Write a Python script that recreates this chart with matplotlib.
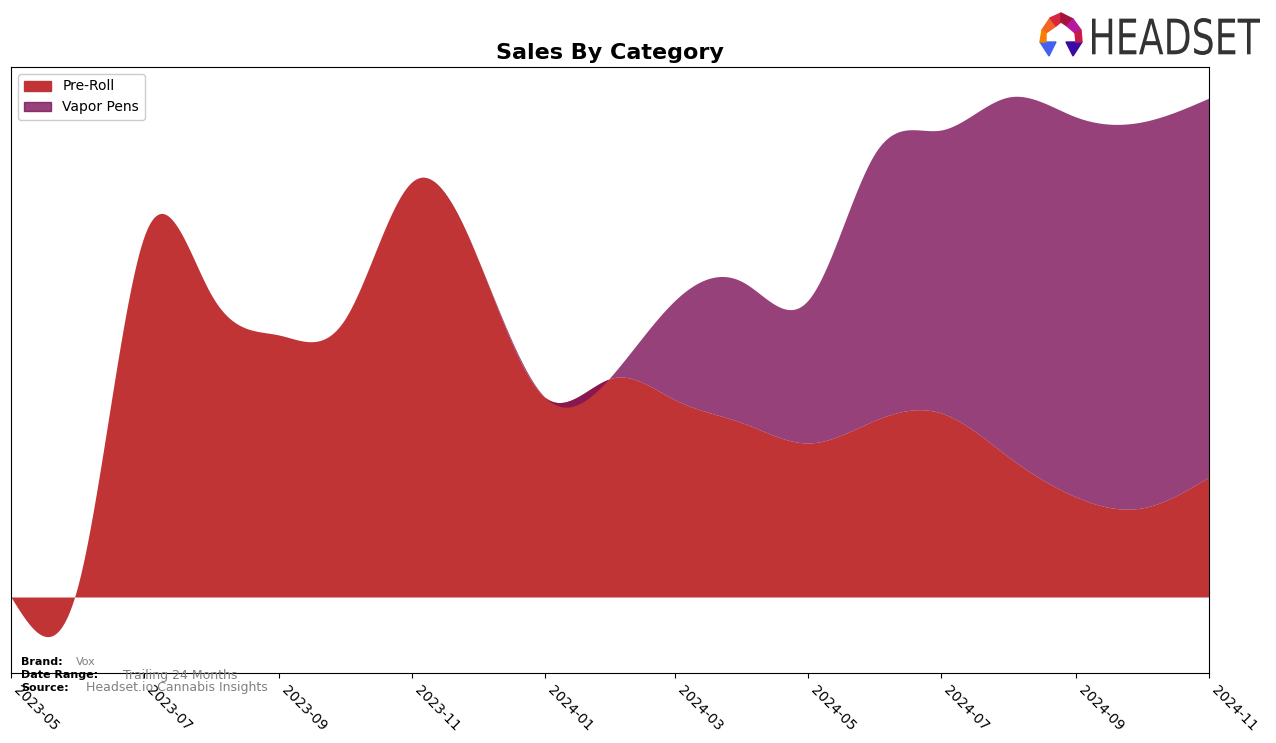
import numpy as np
import matplotlib
matplotlib.use("Agg")
import matplotlib.pyplot as plt
import matplotlib.dates as mdates
from matplotlib.patches import Patch, Polygon, PathPatch
from matplotlib.textpath import TextPath
from matplotlib.font_manager import FontProperties
from matplotlib.transforms import Affine2D

months = ["2023-05", "2023-06", "2023-07", "2023-08", "2023-09", "2023-10",
          "2023-11", "2023-12", "2024-01", "2024-02", "2024-03", "2024-04",
          "2024-05", "2024-06", "2024-07", "2024-08", "2024-09", "2024-10",
          "2024-11"]
pre_roll = [0, 14, 360, 302, 262, 277, 415, 340, 200, 219, 197, 174,
            154, 177, 184, 140, 100, 89, 120]
vapor_pens = [0, 0, 0, 0, 0, 0, 0, 0, 0, 3, 100, 141,
              143, 268, 283, 360, 380, 386, 379]

red = "#c13435"
purple = (124 / 255, 18 / 255, 89 / 255)


def natural_spline(x, y, xs):
    # plain natural cubic spline
    x = np.asarray(x, float)
    y = np.asarray(y, float)
    n = len(x)
    h = np.diff(x)
    A = np.zeros((n, n))
    b = np.zeros(n)
    A[0, 0] = 1
    A[-1, -1] = 1
    for i in range(1, n - 1):
        A[i, i - 1] = h[i - 1]
        A[i, i] = 2 * (h[i - 1] + h[i])
        A[i, i + 1] = h[i]
        b[i] = 3 * ((y[i + 1] - y[i]) / h[i] - (y[i] - y[i - 1]) / h[i - 1])
    c = np.linalg.solve(A, b)
    out = np.zeros_like(xs)
    idx = np.clip(np.searchsorted(x, xs) - 1, 0, n - 2)
    for k, xv in enumerate(xs):
        i = idx[k]
        dx = xv - x[i]
        bi = (y[i + 1] - y[i]) / h[i] - h[i] * (2 * c[i] + c[i + 1]) / 3
        di = (c[i + 1] - c[i]) / (3 * h[i])
        out[k] = y[i] + bi * dx + c[i] * dx ** 2 + di * dx ** 3
    return out


xd = mdates.date2num(np.array([m + "-01" for m in months], dtype="datetime64[D]"))
xs = np.linspace(xd[0], xd[-1], 800)
pre_s = natural_spline(xd, pre_roll, xs)
vap_s = natural_spline(xd, vapor_pens, xs)

fig = plt.figure(figsize=(12.76, 7.43), dpi=100)
ax = fig.add_axes([11 / 1276, 70 / 743, 1198 / 1276, 606 / 743])

ax.fill_between(xs, 0, pre_s, color=red, linewidth=0)
ax.fill_between(xs, pre_s, pre_s + vap_s, color=purple, alpha=0.8, linewidth=0)

ax.set_xlim(xd[0], xd[-1])
ax.set_ylim(-76, 530)
ax.set_yticks([])
ax.xaxis.set_major_locator(mdates.MonthLocator(bymonth=[1, 3, 5, 7, 9, 11]))
ax.xaxis.set_major_formatter(mdates.DateFormatter("%Y-%m"))
for lbl in ax.get_xticklabels():
    lbl.set_rotation(-45)
    lbl.set_ha("left")
    lbl.set_fontsize(10)

ax.set_title("Sales By Category", fontsize=16, fontweight="bold", pad=6)

handles = [Patch(color=red, label="Pre-Roll"),
           Patch(color=purple, alpha=0.8, label="Vapor Pens")]
ax.legend(handles=handles, loc="upper left", fontsize=10, framealpha=1)

# footer info
fig.text(21 / 1276, 1 - 662 / 743, "Brand:", fontsize=8, fontweight="bold", va="center")
fig.text(76 / 1276, 1 - 662 / 743, "Vox", fontsize=8, color="gray", va="center")
fig.text(21 / 1276, 1 - 675 / 743, "Date Range:", fontsize=8, fontweight="bold", va="center")
fig.text(123 / 1276, 1 - 675 / 743, "Trailing 24 Months", fontsize=9, color="gray", va="center")
fig.text(21 / 1276, 1 - 688 / 743, "Source:", fontsize=8, fontweight="bold", va="center")
fig.text(86 / 1276, 1 - 688 / 743, "Headset.io Cannabis Insights", fontsize=9, color="gray", va="center")

# logo, drawn in pixel units (y up)
lax = fig.add_axes([1030 / 1276, 1 - 65 / 743, 240 / 1276, 60 / 743])
lax.set_xlim(1030, 1270)
lax.set_ylim(743 - 65, 743 - 5)
lax.axis("off")

tp = TextPath((0, 0), "HEADSET", size=50, prop=FontProperties(family="DejaVu Sans"))
ext = tp.get_extents()
tr = (Affine2D().translate(-ext.x0, -ext.y0)
      .scale(168 / ext.width, 37 / ext.height)
      .translate(1092, 743 - 55))
lax.add_patch(PathPatch(tr.transform_path(tp), facecolor="#333333", linewidth=0))

ox, oy = 1036, 743 - 60
polys = [
    ([(6, 30), (14, 42), (20, 34), (10, 27)], "#f26522"),
    ([(14, 42), (25, 47), (25, 38), (20, 34)], "#d7263d"),
    ([(25, 47), (37, 41), (31, 34), (25, 38)], "#a4133c"),
    ([(37, 41), (45, 30), (39, 27), (31, 34)], "#b5179e"),
    ([(4, 18), (20, 18), (13, 4)], "#4361ee"),
    ([(30, 18), (46, 18), (37, 4)], "#3a0ca3"),
    ([(6, 30), (10, 27), (10, 18), (4, 18)], "#f77f00"),
    ([(45, 30), (46, 18), (40, 18), (39, 27)], "#c9184a"),
]
for pts, col in polys:
    lax.add_patch(Polygon([(ox + px, oy + py) for px, py in pts], closed=True, color=col))

fig.savefig("out.png", dpi=100)
